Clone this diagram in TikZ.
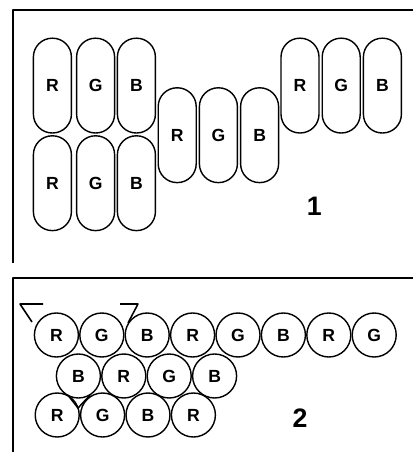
\documentclass[tikz,border=0pt]{standalone}
\usepackage{fontspec}
\setmainfont{Liberation Sans}
\begin{document}
\begin{tikzpicture}[x=1cm,y=1cm,line join=round]
\tikzset{
    capsule/.style={draw,line width=1pt,rounded corners=0.47cm,minimum width=0.95cm,minimum height=2.37cm,inner sep=0pt,font=\fontsize{12.5}{15}\selectfont\bfseries},
    dot/.style={draw,circle,line width=1pt,minimum size=1.1cm,inner sep=0pt,fill=white,font=\fontsize{12.5}{15}\selectfont\bfseries},
    frame/.style={line width=1.3pt},
    corner/.style={line width=1.1pt},
    tag/.style={font=\fontsize{19}{22}\selectfont\bfseries}
}
\useasboundingbox (0,0) rectangle (10.325,-11.3);

% panel 1
\draw[frame] (10.325,-0.25) -- (0.325,-0.25) -- (0.325,-6.575);
\node[capsule] (a1) at (1.31,-2.14) {R};
\node[capsule] (a2) at (2.39,-2.14) {G};
\node[capsule] (a3) at (3.41,-2.14) {B};
\node[capsule] (b1) at (1.31,-4.58) {R};
\node[capsule] (b2) at (2.39,-4.58) {G};
\node[capsule] (b3) at (3.41,-4.58) {B};
\node[capsule] (c1) at (4.43,-3.38) {R};
\node[capsule] (c2) at (5.46,-3.38) {G};
\node[capsule] (c3) at (6.49,-3.38) {B};
\node[capsule] (d1) at (7.50,-2.14) {R};
\node[capsule] (d2) at (8.53,-2.14) {G};
\node[capsule] (d3) at (9.56,-2.14) {B};
\node[tag] (one) at (7.86,-5.16) {1};

% panel 2
\draw[frame] (10.325,-6.95) -- (0.325,-6.95) -- (0.325,-11.3);
\node[dot] (p1) at (1.41,-8.375) {R};
\node[dot] (p2) at (2.545,-8.375) {G};
\node[dot] (p3) at (3.68,-8.375) {B};
\node[dot] (p4) at (4.815,-8.375) {R};
\node[dot] (p5) at (5.95,-8.375) {G};
\node[dot] (p6) at (7.085,-8.375) {B};
\node[dot] (p7) at (8.22,-8.375) {R};
\node[dot] (p8) at (9.355,-8.375) {G};
\node[dot] (q1) at (1.96,-9.4) {B};
\node[dot] (q2) at (3.095,-9.4) {R};
\node[dot] (q3) at (4.23,-9.4) {G};
\node[dot] (q4) at (5.365,-9.4) {B};
\node[dot] (r1) at (1.43,-10.375) {R};
\node[dot] (r2) at (2.565,-10.375) {G};
\node[dot] (r3) at (3.70,-10.375) {B};
\node[dot] (r4) at (4.835,-10.375) {R};
\node[tag] (two) at (7.5,-10.45) {2};
% triad corners
\draw[corner] (1.075,-7.6) -- (0.5,-7.6) -- (0.8,-8.05);
\draw[corner] (3.0,-7.6) -- (3.45,-7.6) -- (3.2,-8.075);
\draw[corner] (1.70,-9.88) -- (1.95,-10.2) -- (2.25,-9.88);
\end{tikzpicture}
\end{document}
